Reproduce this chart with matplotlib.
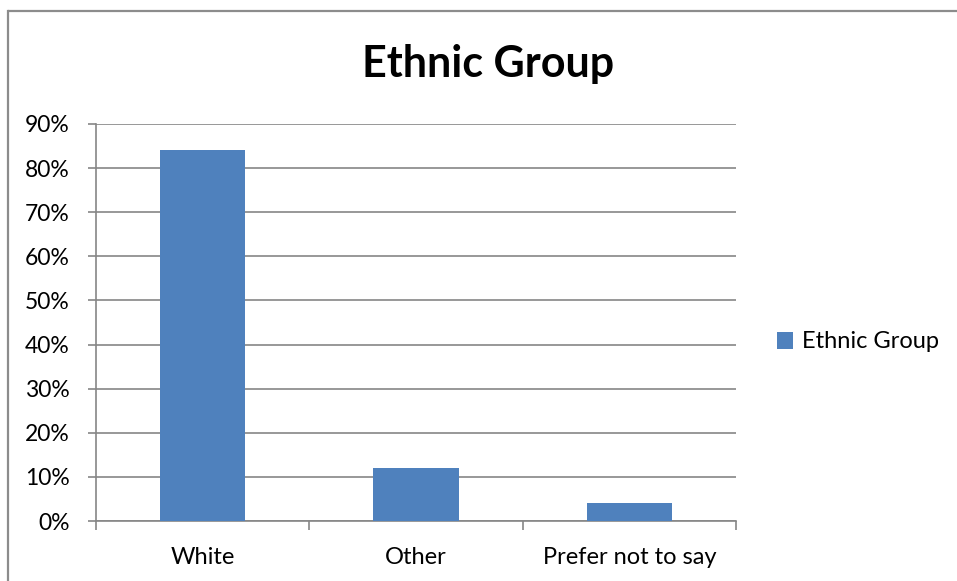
import matplotlib
matplotlib.use("Agg")
import matplotlib.pyplot as plt
from matplotlib.lines import Line2D
from matplotlib.ticker import PercentFormatter

categories = ["White", "Other", "Prefer not to say"]
values = [0.84, 0.12, 0.04]
series_name = "Ethnic Group"
title = "Ethnic Group"
yticks = [0.0, 0.1, 0.2, 0.3, 0.4, 0.5, 0.6, 0.7, 0.8, 0.9]

plt.rcParams['font.family'] = ['Lato', 'DejaVu Sans']
W, H = 957, 581
fig = plt.figure(figsize=(W / 100, H / 100), dpi=100)
fig.patch.set_facecolor("white")

# outer chart border (top and left visible)
grey = "#8c8c8c"
fig.add_artist(Line2D([8 / W, 1.0], [1 - 11 / H, 1 - 11 / H], transform=fig.transFigure, color=grey, lw=1.6,
                      solid_capstyle="butt"))
fig.add_artist(Line2D([8 / W, 8 / W], [0.0, 1 - 11 / H], transform=fig.transFigure, color=grey, lw=1.6,
                      solid_capstyle="projecting"))

ax = fig.add_axes([96 / W, 1 - 521 / H, (736 - 96) / W, (521 - 124) / H])
x = list(range(len(categories)))
ax.bar(x, values, width=0.4, color="#4F81BD", label=series_name, zorder=3)

ax.set_xlim(-0.5, len(categories) - 0.5)
ax.set_ylim(0, 0.9)
ax.set_yticks(yticks)
ax.yaxis.set_major_formatter(PercentFormatter(1.0, decimals=0))
ax.set_xticks(x)
ax.set_xticklabels(categories)
ax.set_xticks([i - 0.5 for i in range(len(categories) + 1)], minor=True)

axis_col = "#868686"
for s in ["top", "right"]:
    ax.spines[s].set_visible(False)
for s in ["left", "bottom"]:
    ax.spines[s].set_color(axis_col)
    ax.spines[s].set_linewidth(1.2)
ax.yaxis.grid(True, color=axis_col, linewidth=1.2, zorder=0)
ax.tick_params(axis="y", length=6, width=1.2, color=axis_col, labelsize=16.5, pad=13, labelcolor="black")
ax.tick_params(axis="x", which="major", length=0, labelsize=17, pad=19, labelcolor="black")
ax.tick_params(axis="x", which="minor", length=6.5, width=1.2, color=axis_col)

fig.text(488 / W, 1 - 77 / H, title, ha="center", va="baseline", fontsize=31, fontweight="bold")

ax.legend(loc="center left", bbox_to_anchor=(765 / W, 1 - 342 / H), bbox_transform=fig.transFigure,
          frameon=False, fontsize=17, handlelength=0.7, handleheight=0.7, handletextpad=0.35, borderpad=0)

fig.savefig("out.png", dpi=100, facecolor="white")
